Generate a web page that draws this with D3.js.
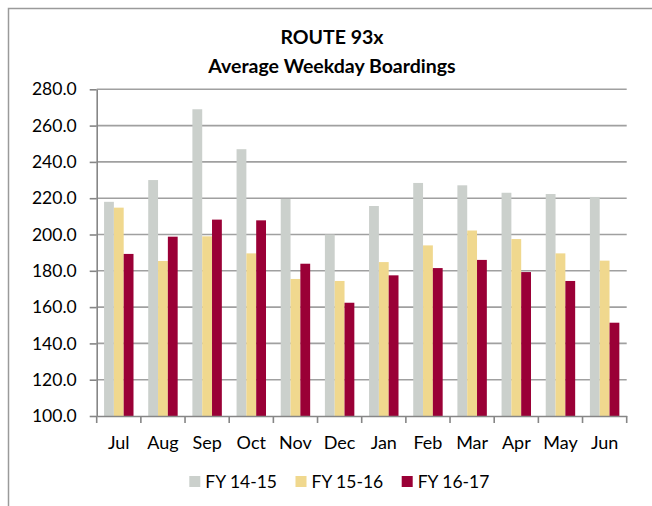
<!DOCTYPE html>
<html><head><meta charset="utf-8">
<script src="https://cdn.jsdelivr.net/npm/d3@7/dist/d3.min.js"></script>
<style>body{margin:0;background:#fff}svg{display:block}text{font-family:Lato,"Open Sans",sans-serif;fill:#000}</style>
</head><body>
<script>
const months = ["Jul","Aug","Sep","Oct","Nov","Dec","Jan","Feb","Mar","Apr","May","Jun"];
const seriesNames = ["FY 14-15","FY 15-16","FY 16-17"];
const fy1415 = [218, 230, 269, 247, 219.6, 200, 215.7, 228.4, 227.1, 223, 222.3, 220.7];
const fy1516 = [214.8, 185.4, 199, 189.6, 175.5, 174.4, 184.8, 194, 202.2, 197.5, 189.6, 185.6];
const fy1617 = [189.3, 198.8, 208.2, 207.8, 183.9, 162.4, 177.5, 181.5, 186, 179.3, 174.4, 151.4];
const yTicks = [100,120,140,160,180,200,220,240,260,280];
const colors = ["#CBD0CC","#F0D88E","#9A0036"];

const W = 652, H = 506;
const svg = d3.select("body").append("svg").attr("width", W).attr("height", H);

// frame
svg.append("path").attr("d", `M8.5,${H+5} V8.5 H${W+5}`).attr("fill","none").attr("stroke","#9a9a9a").attr("stroke-width",1.5);

const pLeft = 96.7, pRight = 626.7, pTop = 89.3, pBottom = 416;
const x0 = d3.scaleBand().domain(months).range([pLeft, pRight]).padding(0);
const x1 = d3.scaleBand().domain(seriesNames)
  .range([x0.bandwidth()/6, x0.bandwidth()*5/6]).padding(0);
const y = d3.scaleLinear().domain([100, 280]).range([pBottom, pTop]);

// gridlines
svg.append("g").selectAll("line").data(yTicks.slice(1)).join("line")
  .attr("x1", pLeft).attr("x2", pRight).attr("y1", d=>y(d)).attr("y2", d=>y(d))
  .attr("stroke","#a0a0a0").attr("stroke-width",1.6);

// bars
const data = [fy1415, fy1516, fy1617];
const g = svg.append("g");
months.forEach((m,i)=>{
  seriesNames.forEach((s,j)=>{
    g.append("rect")
      .attr("x", x0(m)+x1(s)).attr("width", x1.bandwidth())
      .attr("y", y(data[j][i])).attr("height", pBottom - y(data[j][i]))
      .attr("fill", colors[j]);
  });
});

// y axis
const yAxis = d3.axisLeft(y).tickValues(yTicks).tickFormat(d3.format(".1f")).tickSizeInner(7).tickSizeOuter(0).tickPadding(13);
const ya = svg.append("g").attr("transform", `translate(${pLeft},0)`).call(yAxis);
ya.select(".domain").attr("stroke","#868686").attr("stroke-width",1.6);
ya.selectAll(".tick line").attr("stroke","#868686").attr("stroke-width",1.6);
ya.selectAll(".tick text").attr("font-size",17.5).attr("font-family","Lato").attr("fill","#000");

// x axis
const xa = svg.append("g").attr("transform", `translate(0,${pBottom})`)
  .call(d3.axisBottom(x0).tickSize(0).tickPadding(20));
xa.select(".domain").attr("stroke","#868686").attr("stroke-width",1.6);
xa.selectAll(".tick text").attr("font-size",18).attr("font-family","Lato").attr("fill","#000");
xa.append("g").selectAll("line").data(months.concat(["end"])).join("line")
  .attr("x1", (d,i)=> i<months.length ? x0(d) : pRight)
  .attr("x2", (d,i)=> i<months.length ? x0(d) : pRight)
  .attr("y1", 0).attr("y2", 7).attr("stroke","#868686").attr("stroke-width",1.6);

// title
const title = svg.append("text").attr("x", 332).attr("text-anchor","middle")
  .attr("font-weight","bold").attr("font-size",19.5);
title.append("tspan").attr("x",332).attr("y",44).text("ROUTE 93x");
title.append("tspan").attr("x",332).attr("y",73).text("Average Weekday Boardings");

// legend
const lg = svg.append("g");
seriesNames.forEach((s,j)=>{
  const lx = 189.3 + j*106.2;
  lg.append("rect").attr("x", lx).attr("y", 476).attr("width", 11).attr("height", 11).attr("fill", colors[j]);
  lg.append("text").attr("x", lx+16).attr("y", 487.5).attr("font-size",17.5).text(s);
});
</script>
</body></html>
